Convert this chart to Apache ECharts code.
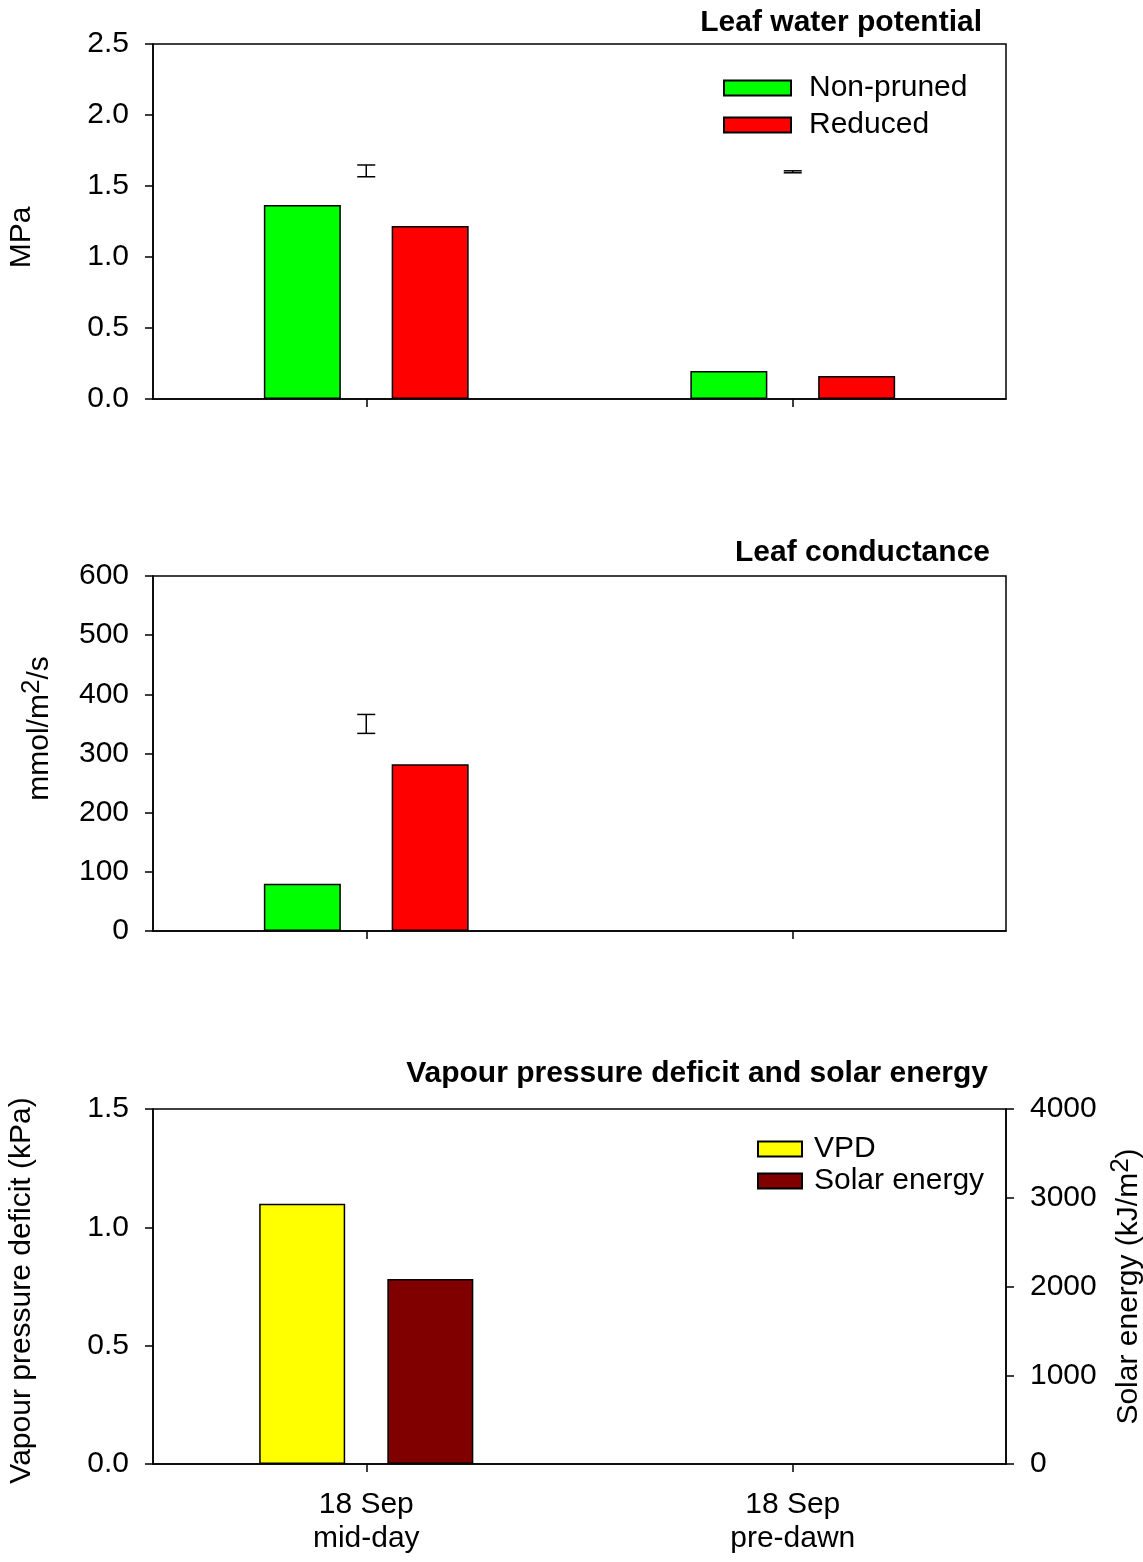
<!DOCTYPE html>
<html>
<head>
<meta charset="utf-8">
<script src="https://cdn.jsdelivr.net/npm/echarts@6/dist/echarts.min.js"></script>
<style>
  html, body { margin: 0; padding: 0; background: #fff; }
  #chart { width: 1143px; height: 1562px; }
</style>
</head>
<body>
<div id="chart"></div>
<script>
const categories = ['18 Sep\nmid-day', '18 Sep\npre-dawn']

// Leaf water potential (MPa)
const lwpNonPruned = [1.366, 0.197]
const lwpReduced = [1.218, 0.162]
const lwpError = [[0, 1.565, 1.648], [1, 1.593, 1.607]]

// Leaf conductance (mmol/m2/s)
const condNonPruned = [80, null]
const condReduced = [282, null]
const condError = [[0, 334, 366]]

// VPD (kPa) and solar energy (kJ/m2)
const vpd = [1.1, null]
const solar = [2085, null]

const font = 'Liberation Sans, Arial, sans-serif'
const black = '#000'
const fs = 30

const chart = echarts.init(document.getElementById('chart'))

function errorBarItem(params, api) {
  const x = api.value(0)
  const lo = api.coord([x, api.value(1)])
  const hi = api.coord([x, api.value(2)])
  const w = 9
  const style = { stroke: black, lineWidth: 1.5 }
  return {
    type: 'group',
    children: [
      { type: 'line', shape: { x1: lo[0], y1: lo[1], x2: hi[0], y2: hi[1] }, style },
      { type: 'line', shape: { x1: hi[0] - w, y1: hi[1], x2: hi[0] + w, y2: hi[1] }, style },
      { type: 'line', shape: { x1: lo[0] - w, y1: lo[1], x2: lo[0] + w, y2: lo[1] }, style }
    ]
  }
}

function xAxisFor(gridIndex, showLabels) {
  return {
    type: 'category',
    gridIndex,
    data: categories,
    boundaryGap: true,
    axisLine: { show: true, lineStyle: { color: black, width: 1.5 } },
    axisTick: { show: true, alignWithLabel: true, inside: false, length: 8, lineStyle: { color: black, width: 1.5 } },
    axisLabel: { show: showLabels, color: black, fontSize: fs, fontFamily: font, margin: 24, lineHeight: 34 },
    splitLine: { show: false }
  }
}

function yAxisFor(gridIndex, opts) {
  return Object.assign({
    type: 'value',
    gridIndex,
    axisLine: { show: true, lineStyle: { color: black, width: 1.5 } },
    axisTick: { show: true, inside: false, length: 8, lineStyle: { color: black, width: 1.5 } },
    axisLabel: { color: black, fontSize: fs, fontFamily: font, margin: 24, formatter: (v) => String(v) },
    splitLine: { show: false },
    nameLocation: 'middle',
    nameTextStyle: { color: black, fontSize: fs, fontFamily: font }
  }, opts)
}

const barStyle = (color) => ({ color, borderColor: black, borderWidth: 1.5 })
const titleStyle = { color: black, fontSize: 30, fontWeight: 'bold', fontFamily: font }
const gridBase = { left: 153, width: 853, height: 355, show: true, borderColor: black, borderWidth: 1.5, backgroundColor: 'transparent', outerBoundsMode: 'none', containLabel: false }
const supRich = { sup: { fontSize: 26, fontFamily: font, color: black, padding: [0, 0, 16, 0] } }

const option = {
  backgroundColor: '#fff',
  animation: false,
  title: [
    { text: 'Leaf water potential', right: 156, top: 3, textStyle: titleStyle },
    { text: 'Leaf conductance', right: 148, top: 533, textStyle: titleStyle },
    { text: 'Vapour pressure deficit and solar energy', right: 150, top: 1054, textStyle: titleStyle }
  ],
  legend: [
    {
      data: ['Non-pruned', 'Reduced'],
      orient: 'vertical',
      left: 718,
      top: 68,
      itemWidth: 67,
      itemHeight: 15,
      itemGap: 7,
      icon: 'rect',
      textStyle: { color: black, fontSize: fs, fontFamily: font, padding: [0, 0, 0, 13] }
    },
    {
      data: ['VPD', 'Solar energy'],
      orient: 'vertical',
      left: 752,
      top: 1129,
      itemWidth: 44,
      itemHeight: 15,
      itemGap: 2,
      icon: 'rect',
      textStyle: { color: black, fontSize: fs, fontFamily: font, padding: [0, 0, 0, 7] }
    }
  ],
  grid: [
    Object.assign({ top: 44 }, gridBase),
    Object.assign({ top: 576 }, gridBase),
    Object.assign({ top: 1109 }, gridBase)
  ],
  xAxis: [xAxisFor(0, false), xAxisFor(1, false), xAxisFor(2, true)],
  yAxis: [
    yAxisFor(0, {
      min: 0, max: 2.5, interval: 0.5, name: 'MPa', nameGap: 116,
      nameTextStyle: { color: black, fontSize: fs, fontFamily: font, padding: [0, 32, 0, 0] },
      axisLabel: { color: black, fontSize: fs, fontFamily: font, margin: 24, formatter: (v) => v.toFixed(1) }
    }),
    yAxisFor(1, {
      min: 0, max: 600, interval: 100, nameGap: 92,
      name: 'mmol/m{sup|2}/s',
      nameTextStyle: { color: black, fontSize: fs, fontFamily: font, padding: [0, 0, 0, 50], rich: supRich }
    }),
    yAxisFor(2, {
      min: 0, max: 1.5, interval: 0.5, name: 'Vapour pressure deficit (kPa)', nameGap: 116,
      nameTextStyle: { color: black, fontSize: fs, fontFamily: font, padding: [0, 8, 0, 0] },
      axisLabel: { color: black, fontSize: fs, fontFamily: font, margin: 24, formatter: (v) => v.toFixed(1) }
    }),
    yAxisFor(2, {
      position: 'right', min: 0, max: 4000, interval: 1000, nameGap: 95,
      name: 'Solar energy (kJ/m{sup|2})',
      nameRotate: 90,
      nameTextStyle: { color: black, fontSize: fs, fontFamily: font, rich: supRich }
    })
  ],
  series: [
    { name: 'Non-pruned', type: 'bar', xAxisIndex: 0, yAxisIndex: 0, data: lwpNonPruned, barWidth: 77, barGap: '66%', itemStyle: barStyle('#00ff00') },
    { name: 'Reduced', type: 'bar', xAxisIndex: 0, yAxisIndex: 0, data: lwpReduced, barWidth: 77, barGap: '66%', itemStyle: barStyle('#ff0000') },
    { name: 'lwpErr', type: 'custom', xAxisIndex: 0, yAxisIndex: 0, data: lwpError, renderItem: errorBarItem, z: 10 },

    { name: 'Non-pruned', type: 'bar', xAxisIndex: 1, yAxisIndex: 1, data: condNonPruned, barWidth: 77, barGap: '66%', itemStyle: barStyle('#00ff00') },
    { name: 'Reduced', type: 'bar', xAxisIndex: 1, yAxisIndex: 1, data: condReduced, barWidth: 77, barGap: '66%', itemStyle: barStyle('#ff0000') },
    { name: 'condErr', type: 'custom', xAxisIndex: 1, yAxisIndex: 1, data: condError, renderItem: errorBarItem, z: 10 },

    { name: 'VPD', type: 'bar', xAxisIndex: 2, yAxisIndex: 2, data: vpd, barWidth: 86, barGap: '49%', itemStyle: barStyle('#ffff00') },
    { name: 'Solar energy', type: 'bar', xAxisIndex: 2, yAxisIndex: 3, data: solar, barWidth: 86, barGap: '49%', itemStyle: barStyle('#800000') }
  ]
}

chart.setOption(option)
</script>
</body>
</html>
